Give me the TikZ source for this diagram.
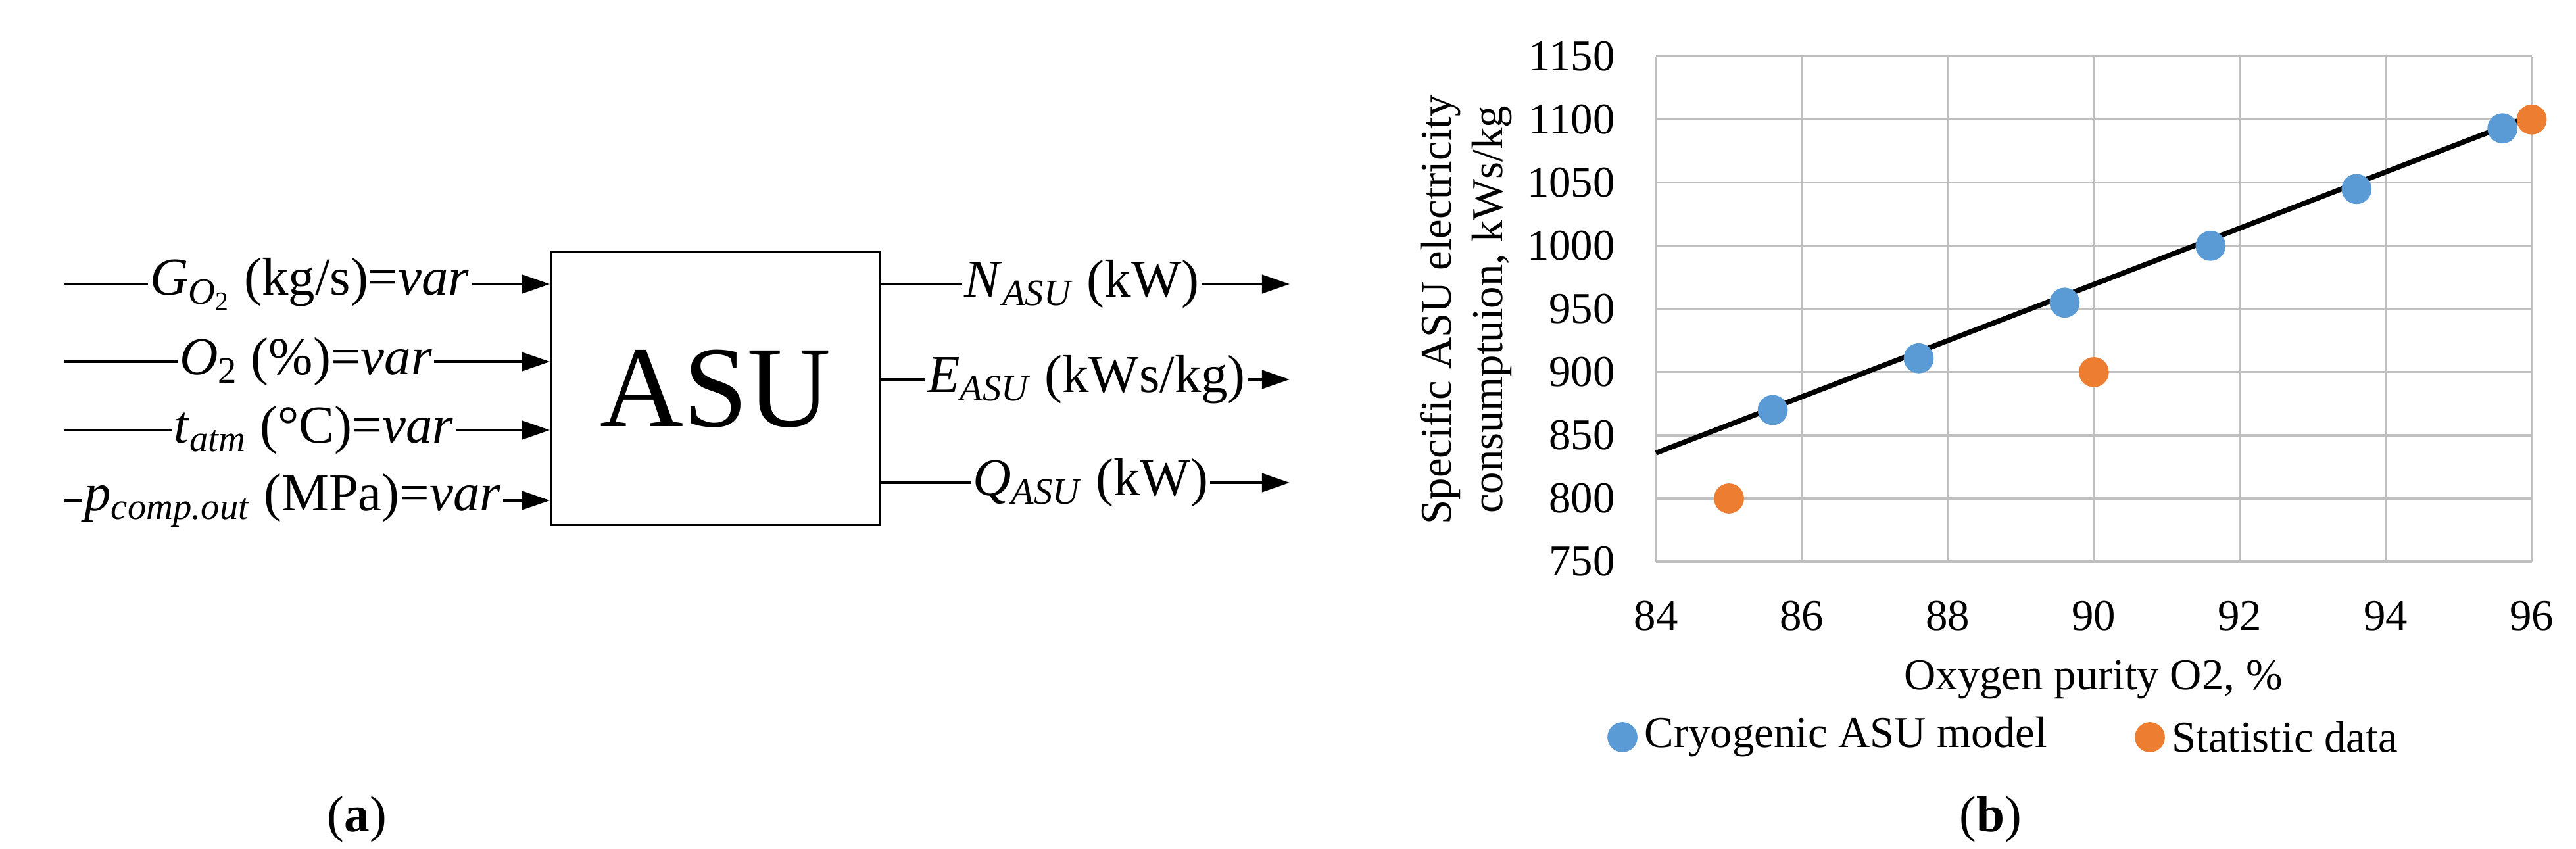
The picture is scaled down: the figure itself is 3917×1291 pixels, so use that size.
\documentclass[tikz,border=0pt]{standalone}
\usepackage{fontspec}
\setmainfont{Liberation Serif}
\usetikzlibrary{arrows.meta}
\definecolor{cblue}{HTML}{5B9BD5}
\definecolor{corange}{HTML}{ED7D31}
\definecolor{cgrid}{HTML}{BFBFBF}
\begin{document}
\begin{tikzpicture}[x=0.01cm,y=-0.01cm,
  arr/.style={line width=1.1pt,-{Triangle[length=12pt,width=8pt]}},
  lab/.style={fill=white,inner sep=1pt,font=\fontsize{23}{27}\selectfont},
  tick/.style={font=\fontsize{19}{22}\selectfont}]
\useasboundingbox (0,0) rectangle (3917,1291);
% left diagram
\node[draw,line width=1.1pt,minimum width=500*0.01cm,minimum height=415*0.01cm,font=\fontsize{50}{58}\selectfont] (asu) at (1088,591) {ASU};
\foreach \n/\y in {1/432,2/550,3/654,4/761}{\coordinate (s\n) at (97,\y);}
\foreach \n/\y in {1/432,2/577,3/734}{\coordinate (e\n) at (1961,\y);}
\foreach \n in {1,2,3,4}{\draw[arr] (s\n) -- (s\n -| asu.west);}
\foreach \n in {1,2,3}{\draw[arr] (e\n -| asu.east) -- (e\n);}
\node[lab] (l1) at (471,432) {\textit{G}\textsubscript{\textit{O}\textsubscript{2}} (kg/s)=\textit{var}};
\node[lab] (l2) at (465,550) {\textit{O}\textsubscript{2} (\%)=\textit{var}};
\node[lab] (l3) at (477,654) {\textit{t}\textsubscript{\textit{atm}} (°C)=\textit{var}};
\node[lab] (l4) at (445,761) {\textit{p}\textsubscript{\textit{comp.out}} (MPa)=\textit{var}};
\node[lab] (r1) at (1645,432) {\textit{N}\textsubscript{\textit{ASU}} (kW)};
\node[lab] (r2) at (1652,577) {\textit{E}\textsubscript{\textit{ASU}} (kWs/kg)};
\node[lab] (r3) at (1658,734) {\textit{Q}\textsubscript{\textit{ASU}} (kW)};
\node[font=\fontsize{22}{26}\selectfont] (la) at (543,1246) {(\textbf{a})};
% chart
\begin{scope}[shift={(2518,854)}]
\begin{scope}[x=1.109cm,y=0.0192cm]
\foreach \v in {0,2,...,12}{\draw[cgrid,line width=0.9pt] (\v,0) -- (\v,400);
  \pgfmathtruncatemacro\lbl{84+\v}
  \node[tick] at (\v,-43) {\lbl};}
\foreach \w in {0,50,...,400}{\draw[cgrid,line width=0.9pt] (0,\w) -- (12,\w);
  \pgfmathtruncatemacro\lbl{750+\w}
  \node[tick,anchor=east] at (-0.45,\w) {\lbl};}
\draw[line width=2.2pt] (0,86) coordinate (t0) -- (12,353) coordinate (t1);
\foreach \a/\b in {1.6/120,3.6/161,5.6/205,7.6/250,9.6/295,11.6/343}{\fill[cblue] (\a,\b) circle[radius=6.5pt];}
\foreach \a/\b in {1/50,6/150,12/350}{\fill[corange] (\a,\b) circle[radius=6.5pt];}
\end{scope}
\end{scope}
\node[tick] (xt) at (3183,1033) {Oxygen purity O2, \%};
\node[tick,rotate=90,align=center] (yt) at (2229,471) {Specific ASU electricity\\consumptuion, kWs/kg};
\fill[cblue] (2467,1121) circle[radius=6.5pt];
\node[tick,anchor=west] (lg1) at (2488,1121) {Cryogenic ASU model};
\fill[corange] (3269,1121) circle[radius=6.5pt];
\node[tick,anchor=west] (lg2) at (3290,1121) {Statistic data};
\node[font=\fontsize{22}{26}\selectfont] (lb) at (3027,1246) {(\textbf{b})};
\end{tikzpicture}
\end{document}
